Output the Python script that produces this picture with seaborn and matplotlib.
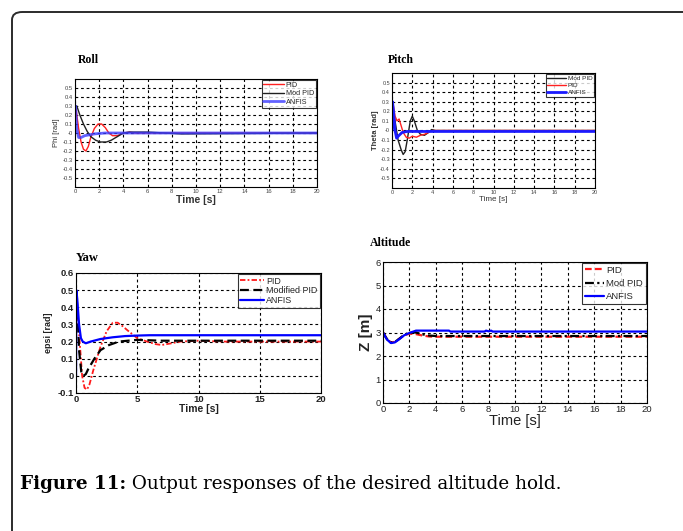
import matplotlib
matplotlib.use("Agg")
import matplotlib.pyplot as plt
from matplotlib.patches import FancyBboxPatch
import numpy as np
import pandas as pd
import seaborn as sns

# ---------------- data ----------------
# Roll
roll_pid_t = [0, 0.1, 0.3, 0.5, 0.7, 0.9, 1.1, 1.3, 1.6, 1.9, 2.2, 2.5, 2.8, 3.1, 3.5, 4.0, 4.5, 5, 6, 8, 20]
roll_pid = [0.3, 0.25, 0.05, -0.1, -0.18, -0.2, -0.15, -0.05, 0.05, 0.1, 0.1, 0.06, 0.0, -0.03, -0.03, 0.0, 0.01, 0.0, 0.0, 0.0, 0.0]
roll_mod_t = [0, 0.15, 0.4, 0.7, 1.0, 1.3, 1.7, 2.1, 2.6, 3.0, 3.5, 4.0, 4.5, 6, 8.8, 20]
roll_mod = [0.3, 0.3, 0.2, 0.1, 0.02, -0.04, -0.08, -0.1, -0.1, -0.08, -0.04, 0.0, 0.01, 0.01, -0.01, 0.0]
roll_anfis_t = [0, 0.05, 0.15, 0.3, 0.5, 0.8, 1.2, 1.6, 2.5, 20]
roll_anfis = [0.0, 0.3, 0.05, -0.05, -0.05, -0.03, -0.02, -0.01, 0.0, 0.0]

# Pitch
pitch_mod_t = [0, 0.3, 0.6, 0.9, 1.1, 1.3, 1.5, 1.8, 2.0, 2.2, 2.5, 2.8, 3.2, 3.6, 3.9, 4.3, 5, 20]
pitch_mod = [0.3, 0.1, -0.1, -0.2, -0.25, -0.22, -0.1, 0.1, 0.15, 0.1, 0.0, -0.04, -0.05, -0.02, 0.01, 0.0, 0.0, 0.0]
pitch_pid_t = [0, 0.15, 0.3, 0.5, 0.7, 0.9, 1.1, 1.4, 1.7, 2.0, 2.4, 2.8, 3.2, 3.6, 4.0, 20]
pitch_pid = [0.3, 0.25, 0.15, 0.1, 0.12, 0.05, -0.02, -0.07, -0.08, -0.06, -0.07, -0.05, -0.04, -0.02, 0.0, 0.0]
pitch_anfis_t = [0, 0.05, 0.15, 0.3, 0.45, 0.7, 1.0, 1.5, 20]
pitch_anfis = [0.0, 0.3, 0.2, 0.0, -0.08, -0.05, -0.02, -0.01, -0.01]

# Yaw
yaw_pid_t = [0.05, 0.1, 0.3, 0.5, 0.7, 0.9, 1.1, 1.4, 1.7, 2.0, 2.5, 3.0, 3.4, 3.8, 4.3, 5.0, 5.8, 6.5, 7.0, 7.8, 8.5, 10, 12, 15, 20]
yaw_pid = [0.42, 0.38, 0.2, 0.0, -0.07, -0.08, -0.05, 0.03, 0.1, 0.17, 0.26, 0.31, 0.31, 0.29, 0.26, 0.22, 0.2, 0.185, 0.18, 0.19, 0.2, 0.205, 0.2, 0.2, 0.2]
yaw_mod_t = [0.05, 0.1, 0.25, 0.45, 0.6, 0.8, 1.0, 1.5, 2.0, 2.7, 3.5, 5, 7, 10, 15, 20]
yaw_mod = [0.46, 0.4, 0.15, 0.01, 0.0, 0.01, 0.04, 0.1, 0.15, 0.18, 0.2, 0.21, 0.205, 0.205, 0.205, 0.205]
yaw_anfis_t = [0, 0.03, 0.1, 0.25, 0.4, 0.55, 0.8, 1.2, 2, 3, 4, 5, 6, 20]
yaw_anfis = [0.0, 0.5, 0.45, 0.3, 0.22, 0.2, 0.19, 0.2, 0.215, 0.225, 0.232, 0.235, 0.237, 0.237]

# Altitude
alt_pid_t = [0, 0.3, 0.6, 0.9, 1.2, 1.6, 2.0, 2.5, 3.0, 3.5, 4.0, 20]
alt_pid = [3.0, 2.72, 2.58, 2.6, 2.72, 2.88, 2.95, 2.93, 2.87, 2.83, 2.82, 2.82]
alt_mod_t = [0, 0.3, 0.6, 0.9, 1.2, 1.6, 2.0, 2.5, 3.0, 3.5, 4.0, 20]
alt_mod = [3.0, 2.72, 2.57, 2.6, 2.72, 2.9, 3.0, 3.0, 2.92, 2.87, 2.85, 2.85]
alt_anfis_t = [0, 0.3, 0.6, 0.9, 1.2, 1.6, 2.0, 2.5, 3.0, 5.0, 5.1, 7.7, 7.8, 8.0, 8.2, 8.3, 20]
alt_anfis = [3.0, 2.7, 2.55, 2.58, 2.7, 2.88, 2.98, 3.08, 3.08, 3.08, 3.04, 3.04, 3.08, 3.05, 3.08, 3.04, 3.04]

# ---------------- style ----------------
sns.set_theme(style="white")
plt.rcParams["font.family"] = ["Liberation Sans", "DejaVu Sans"]

fig = plt.figure(figsize=(6.83, 5.31), dpi=100)
fig.patch.set_facecolor("white")

# rounded frame around the figure panel
frame = FancyBboxPatch((12 / 683, -0.2), 1.2, 0.2 + (1 - 12 / 531),
                       boxstyle="round,pad=0,rounding_size=0.015",
                       transform=fig.transFigure, fill=False,
                       edgecolor="#2b2b2b", linewidth=1.4, zorder=0)
fig.add_artist(frame)

GRID = dict(color="black", linestyle=(0, (2.5, 2.5)), linewidth=0.8)


def series(ax, t, y, label, color, lw, ls="-", alpha=1.0):
    df = pd.DataFrame({"t": t, "y": y})
    sns.lineplot(data=df, x="t", y="y", ax=ax, color=color, linewidth=lw,
                 linestyle=ls, label=label, sort=False, estimator=None, alpha=alpha)


def style_axes(ax, xticks, yticks, xlim, ylim, tick_fs, tick_color="black", bold=False):
    ax.set_xlim(*xlim)
    ax.set_ylim(*ylim)
    ax.set_xticks(xticks)
    ax.set_yticks(yticks)
    ax.grid(True, **GRID)
    for s in ax.spines.values():
        s.set_edgecolor("black")
        s.set_linewidth(0.8)
    ax.tick_params(axis="both", labelsize=tick_fs, colors=tick_color, length=2, pad=1.5,
                   direction="in")
    for lab in ax.get_xticklabels() + ax.get_yticklabels():
        lab.set_fontweight("bold" if bold else "normal")


def legend(ax, fs, spacing=0.1, handlelength=2.6):
    leg = ax.legend(loc="upper right", fontsize=fs, frameon=True, fancybox=False,
                    borderpad=0.25, labelspacing=spacing, handlelength=handlelength,
                    handletextpad=0.3, borderaxespad=0.15)
    leg.get_frame().set_edgecolor("black")
    leg.get_frame().set_linewidth(0.8)
    return leg


title_kw = dict(fontfamily="Liberation Serif", fontweight="bold", color="black")

# ---- Roll ----
ax1 = fig.add_axes([75 / 683, 1 - 187 / 531, 242 / 683, 108 / 531])
series(ax1, roll_pid_t, roll_pid, "PID", "#ff2020", 1.0)
series(ax1, roll_mod_t, roll_mod, "Mod PID", "#202020", 1.0)
series(ax1, roll_anfis_t, roll_anfis, "ANFIS", "#3a3aff", 2.0, alpha=0.8)
style_axes(ax1, np.arange(0, 21, 2), np.round(np.arange(-0.5, 0.51, 0.1), 1),
           (0, 20), (-0.6, 0.6), 4.2, "#444444")
ax1.set_yticklabels([f"{v:g}" for v in np.round(np.arange(-0.5, 0.51, 0.1), 1)])
ax1.set_xlabel("Time [s]", fontsize=7.5, labelpad=1, color="#333333", fontweight="bold")
ax1.set_ylabel("Phi [rad]", fontsize=5.5, labelpad=2, color="#333333")
legend(ax1, 5.2, spacing=0.2, handlelength=2.8)
fig.text(78 / 683, 1 - 60 / 531, "Roll", fontsize=8.5, va="center", ha="left", **title_kw)

# ---- Pitch ----
ax2 = fig.add_axes([392 / 683, 1 - 188 / 531, 203 / 683, 115 / 531])
series(ax2, pitch_mod_t, pitch_mod, "Mod PID", "#202020", 1.0)
series(ax2, pitch_pid_t, pitch_pid, "PID", "#ff2020", 1.0)
series(ax2, pitch_anfis_t, pitch_anfis, "ANFIS", "#1a1aff", 2.0)
style_axes(ax2, np.arange(0, 21, 2), np.round(np.arange(-0.5, 0.51, 0.1), 1),
           (0, 20), (-0.6, 0.6), 4.0, "#444444")
ax2.set_yticklabels([f"{v:g}" for v in np.round(np.arange(-0.5, 0.51, 0.1), 1)])
ax2.set_xlabel("Time [s]", fontsize=5.8, labelpad=1, color="#333333")
ax2.set_ylabel("Theta [rad]", fontsize=5.5, labelpad=1, color="#333333", fontweight="bold")
legend(ax2, 4.6, spacing=0.25, handlelength=2.9)
fig.text(388 / 683, 1 - 60 / 531, "Pitch", fontsize=8.5, va="center", ha="left", **title_kw)

# ---- Yaw ----
ax3 = fig.add_axes([76 / 683, 1 - 393 / 531, 245 / 683, 120 / 531])
series(ax3, yaw_pid_t, yaw_pid, "PID", "#ff1a1a", 1.3, ls=(0, (3, 1.2, 1, 1.2)))
series(ax3, yaw_mod_t, yaw_mod, "Modified PID", "black", 1.6, ls=(0, (4, 2)))
series(ax3, yaw_anfis_t, yaw_anfis, "ANFIS", "#0000ff", 1.6)
style_axes(ax3, [0, 5, 10, 15, 20], np.round(np.arange(-0.1, 0.61, 0.1), 1),
           (0, 20), (-0.1, 0.6), 6.8, "#222222", bold=True)
ax3.set_yticklabels([f"{v:g}" for v in np.round(np.arange(-0.1, 0.61, 0.1), 1)])
ax3.set_xlabel("Time [s]", fontsize=7.5, labelpad=0, fontweight="bold", color="#222222")
ax3.set_ylabel("epsi [rad]", fontsize=6.5, labelpad=3, fontweight="bold", color="#222222")
legend(ax3, 6.4)
fig.text(76 / 683, 1 - 258 / 531, "Yaw", fontsize=9, va="center", ha="left", **title_kw)

# ---- Altitude ----
ax4 = fig.add_axes([383 / 683, 1 - 403 / 531, 264 / 683, 141 / 531])
series(ax4, alt_pid_t, alt_pid, "PID", "#ff1a1a", 1.6, ls=(0, (3, 1.5)))
series(ax4, alt_mod_t, alt_mod, "Mod PID", "black", 1.6, ls=(0, (4, 1.5, 1, 1.5)))
series(ax4, alt_anfis_t, alt_anfis, "ANFIS", "#0000ff", 1.6)
style_axes(ax4, np.arange(0, 21, 2), np.arange(0, 7, 1),
           (0, 20), (0, 6), 6.8, "#222222")
ax4.set_xlabel("Time [s]", fontsize=10.5, labelpad=0, color="#222222")
ax4.set_ylabel("Z [m]", fontsize=11, labelpad=2, fontweight="bold", color="#222222")
legend(ax4, 6.8, spacing=0.45, handlelength=2.0)
fig.text(370 / 683, 1 - 243 / 531, "Altitude", fontsize=8.5, va="center", ha="left", **title_kw)

# ---- caption ----
cap_y = 1 - 489 / 531
t1 = fig.text(20 / 683, cap_y, "Figure 11:", fontsize=13.2, fontweight="bold",
              fontfamily="DejaVu Serif", va="baseline", ha="left", color="black")
overlay = fig.add_axes([0, 0, 1, 1], facecolor="none")
overlay.set_axis_off()
overlay.annotate(" Output responses of the desired altitude hold.", xy=(1, 0),
                 xycoords=t1, va="bottom", ha="left", fontsize=13.2,
                 fontfamily="DejaVu Serif", color="black")

fig.savefig("out.png", dpi=100, facecolor="white")
